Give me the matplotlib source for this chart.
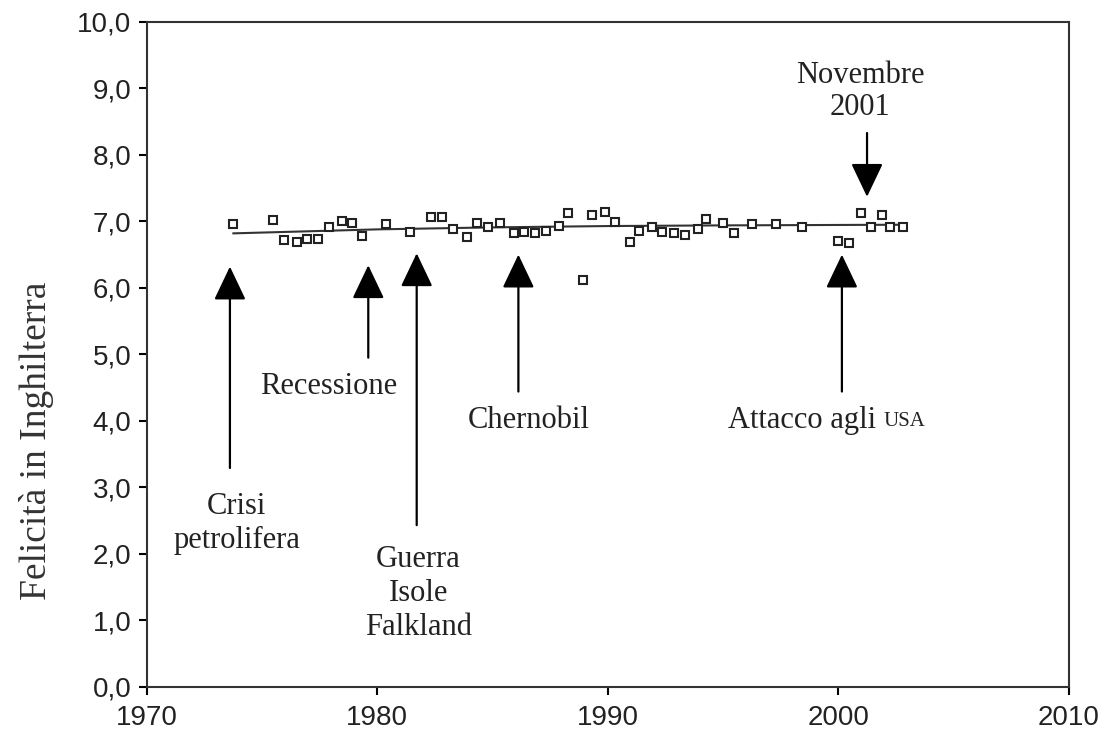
import matplotlib.pyplot as plt
from matplotlib.ticker import FuncFormatter

# Survey points (year, mean happiness)
years = [1973.76, 1975.49, 1975.96, 1976.53, 1976.97, 1977.44, 1977.91, 1978.46,
         1978.89, 1979.33, 1980.38, 1981.42, 1982.32, 1982.80, 1983.28, 1983.88,
         1984.34, 1984.82, 1985.33, 1985.93, 1986.37, 1986.85, 1987.31, 1987.90,
         1988.29, 1988.92, 1989.31, 1989.88, 1990.32, 1990.94, 1991.33, 1991.91,
         1992.34, 1992.85, 1993.35, 1993.93, 1994.25, 1994.99, 1995.45, 1996.27,
         1997.30, 1998.42, 1999.96, 2000.44, 2000.99, 2001.41, 2001.89, 2002.25,
         2002.82]
happiness = [6.96, 7.02, 6.72, 6.69, 6.73, 6.73, 6.92, 7.01,
             6.97, 6.78, 6.96, 6.84, 7.07, 7.07, 6.88, 6.77,
             6.97, 6.91, 6.98, 6.83, 6.84, 6.82, 6.86, 6.93,
             7.13, 6.12, 7.09, 7.14, 6.99, 6.69, 6.85, 6.92,
             6.84, 6.82, 6.80, 6.88, 7.03, 6.97, 6.82, 6.96,
             6.96, 6.91, 6.71, 6.68, 7.12, 6.91, 7.09, 6.91,
             6.91]

# Fitted trend
trend_years = [1973.76, 1980.0, 1985.0, 1990.0, 1995.0, 2002.82]
trend_vals = [6.82, 6.88, 6.91, 6.93, 6.94, 6.95]

# Events: label, arrow x (year), arrow tip, arrow tail, text x, text y
events = [
    ("Crisi\npetrolifera", 1973.61, 6.32, 3.29, 1973.91, 2.46),
    ("Recessione", 1979.61, 6.34, 4.95, 1977.91, 4.52),
    ("Guerra\nIsole\nFalkland", 1981.71, 6.52, 2.43, 1981.77, 1.40),
    ("Chernobil", 1986.12, 6.50, 4.44, 1986.55, 4.01),
]
nov_year, nov_tail, nov_tip = 2001.24, 8.33, 7.37
usa_year, usa_tip, usa_tail = 2000.15, 6.50, 4.44

serif = 'Liberation Serif'
sans = ['Liberation Sans Narrow', 'Liberation Sans']

fig = plt.figure(figsize=(11.18, 7.33), dpi=100)
ax = fig.add_axes([0.1312, 0.0632, 0.8250, 0.9068])

ax.plot(trend_years, trend_vals, color='#333333', linewidth=1.5, zorder=2)
ax.plot(years, happiness, linestyle='none', marker='s', markersize=6.2,
        markerfacecolor='white', markeredgecolor='#222222', markeredgewidth=1.5, zorder=3)

arrow_style = dict(arrowstyle='-|>,head_length=2.1,head_width=1.0', color='black',
                   linewidth=1.6, shrinkA=0, shrinkB=0)

for label, x, tip, tail, tx, ty in events:
    ax.annotate('', xy=(x, tip), xytext=(x, tail), arrowprops=arrow_style)
    ax.text(tx, ty, label, ha='center', va='center', fontsize=22,
            family=serif, color='#222222', linespacing=1.22)

ax.annotate('', xy=(usa_year, usa_tip), xytext=(usa_year, usa_tail), arrowprops=arrow_style)
t1 = ax.text(1995.22, 4.01, 'Attacco agli ', ha='left', va='center', fontsize=22,
             family=serif, color='#222222')
ax.annotate('USA', xy=(1, 0.45), xycoords=t1, ha='left', va='center', fontsize=15,
            family=serif, color='#222222')

ax.annotate('', xy=(nov_year, nov_tip), xytext=(nov_year, nov_tail), arrowprops=arrow_style)
ax.text(2000.95, 8.95, 'Novembre\n2001', ha='center', va='center', fontsize=22,
        family=serif, color='#222222', linespacing=1.15)

ax.set_xlim(1970, 2010)
ax.set_ylim(0, 10)
ax.set_xticks([1970, 1980, 1990, 2000, 2010])
ax.set_yticks([i for i in range(11)])
ax.yaxis.set_major_formatter(FuncFormatter(lambda v, p: f"{v:.1f}".replace('.', ',')))

for lab in ax.get_xticklabels() + ax.get_yticklabels():
    lab.set_family(sans)
    lab.set_fontsize(20)
    lab.set_color('#222222')

ax.tick_params(direction='out', length=6, width=1.5, pad=5, top=False, right=False)
ax.tick_params(axis='x', pad=7)
for s in ax.spines.values():
    s.set_linewidth(1.5)
    s.set_color('#333333')

ax.set_ylabel('Felicità in Inghilterra', family=serif, fontsize=27, color='#333333')
ax.yaxis.set_label_coords(-0.101, 0.37)

fig.savefig('out.png', dpi=100)
